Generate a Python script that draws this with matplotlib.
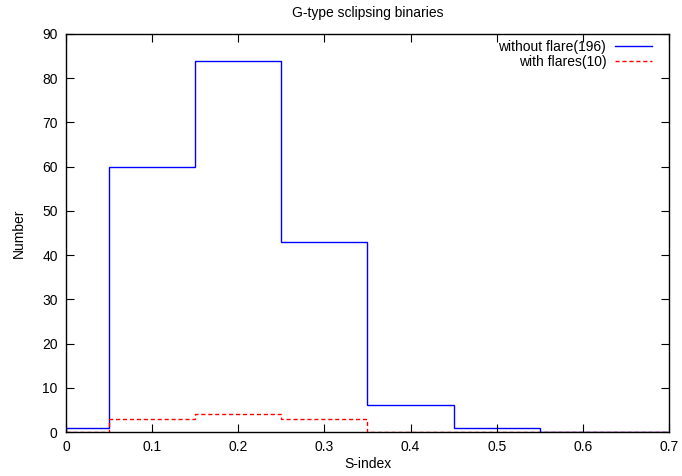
import numpy as np
import matplotlib
matplotlib.use('Agg')
import matplotlib.pyplot as plt

plt.rcParams['font.family'] = ['Liberation Sans', 'DejaVu Sans']

# histogram data
bin_edges = [0.0, 0.05, 0.15, 0.25, 0.35, 0.45, 0.55, 0.65, 0.7]
without_flare = [1, 60, 84, 43, 6, 1, 0, 0]
with_flares = [0, 3, 4, 3, 0, 0, 0, 0]

fig = plt.figure(figsize=(6.82, 4.76), dpi=100)
ax = fig.add_axes([0.0968, 0.0924, 0.884, 0.8362])

ax.stairs(without_flare, bin_edges, color='blue', linewidth=1,
          label='without flare(196)')
ax.stairs(with_flares, bin_edges, color='red', linewidth=1,
          linestyle=(0, (3, 2)), label='with flares(10)')

ax.set_xlim(0, 0.7)
ax.set_ylim(0, 90)
ax.set_xticks(np.arange(0, 0.71, 0.1))
ax.set_xticklabels(['0', '0.1', '0.2', '0.3', '0.4', '0.5', '0.6', '0.7'])
ax.set_yticks(np.arange(0, 91, 10))
ax.tick_params(direction='in', top=True, right=True, length=6, width=0.8,
               labelsize=10, pad=6)
for s in ax.spines.values():
    s.set_linewidth(1)

ax.set_xlabel('S-index', fontsize=10, labelpad=2)
ax.set_ylabel('Number', fontsize=10, labelpad=12)
ax.set_title('G-type sclipsing binaries', fontsize=10, pad=12)

ax.legend(loc='upper right', bbox_to_anchor=(0.972, 0.985), frameon=False,
          markerfirst=False, fontsize=10, handlelength=2.7,
          handletextpad=0.6, labelspacing=0.05, borderaxespad=0,
          borderpad=0)

plt.savefig('out.png', dpi=100)
